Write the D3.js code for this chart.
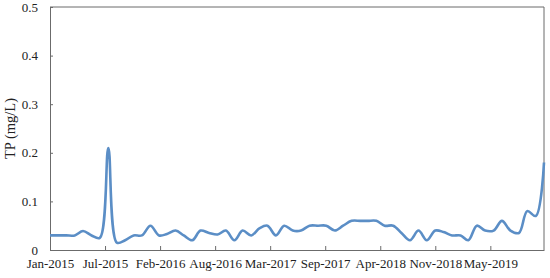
<!DOCTYPE html>
<meta charset="utf-8">
<style>
  body { margin: 0; background: #fff; }
  .axis text { font: 13px "Liberation Serif", serif; fill: #222; }
  .yTitle { font: 14.5px "Liberation Serif", serif; fill: #222; }
</style>
<svg width="550" height="278"></svg>
<script src="https://d3js.org/d3.v7.min.js"></script>
<script>
// monthly TP readings, Jan-2015 .. Dec-2019
var startMonth = "2015-01";
var tpValues = [
  0.030, 0.030, 0.030, 0.030, 0.039, 0.030, 0.025, 0.210, 0.015, 0.020, 0.030, 0.030,
  0.050, 0.030, 0.033, 0.040, 0.030, 0.020, 0.040, 0.035, 0.032, 0.040, 0.020, 0.040,
  0.030, 0.045, 0.050, 0.030, 0.050, 0.040, 0.040, 0.050, 0.050, 0.050, 0.040, 0.050,
  0.060, 0.060, 0.060, 0.060, 0.050, 0.050, 0.035, 0.020, 0.040, 0.020, 0.040, 0.037,
  0.030, 0.030, 0.020, 0.050, 0.040, 0.040, 0.060, 0.040, 0.035, 0.080, 0.070, 0.180
];
// x ticks every 200 days from the first date
var tickDates = ["2015-01-01", "2015-07-20", "2016-02-05", "2016-08-23", "2017-03-11",
                 "2017-09-27", "2018-04-15", "2018-11-01", "2019-05-20"];
var yTicks = [0, 0.1, 0.2, 0.3, 0.4, 0.5];

var parse = d3.timeParse("%Y-%m-%d");
var t0 = d3.timeParse("%Y-%m")(startMonth);
var data = tpValues.map(function(v, i) { return {date: d3.timeMonth.offset(t0, i), value: v}; });

var svg = d3.select("svg"),
    margin = {top: 7, right: 6, bottom: 28, left: 50},
    width = 550 - margin.left - margin.right,
    height = 278 - margin.top - margin.bottom,
    g = svg.append("g").attr("transform", "translate(" + margin.left + "," + margin.top + ")");

var x = d3.scaleTime()
    .domain(d3.extent(data, function(d) { return d.date; }))
    .range([0, width]);

var y = d3.scaleLinear()
    .domain([0, 0.5])
    .range([height, 0]);

var axisColor = "#6b6b6b";

// bottom axis, ticks pointing inward
var xAxis = g.append("g")
    .attr("class", "axis")
    .attr("transform", "translate(0," + height + ")")
    .call(d3.axisBottom(x)
      .tickValues(tickDates.map(parse))
      .tickFormat(d3.timeFormat("%b-%Y"))
      .tickSizeInner(-4).tickSizeOuter(0).tickPadding(9));
xAxis.select(".domain").attr("stroke", axisColor);
xAxis.selectAll(".tick line").attr("stroke", axisColor);

var yAxis = g.append("g")
    .attr("class", "axis")
    .call(d3.axisLeft(y)
      .tickValues(yTicks)
      .tickFormat(function(d) { return d === 0 ? "0" : d3.format(".1f")(d); })
      .tickSizeInner(-3).tickSizeOuter(0).tickPadding(12));
yAxis.select(".domain").attr("stroke", axisColor);
yAxis.selectAll(".tick line").attr("stroke", axisColor);

// top and right frame
g.append("line").attr("x1", 0).attr("x2", width).attr("y1", 0).attr("y2", 0)
    .attr("stroke", axisColor);
g.append("line").attr("x1", width).attr("x2", width).attr("y1", 0).attr("y2", height)
    .attr("stroke", axisColor);

var line = d3.line()
    .x(function(d) { return x(d.date); })
    .y(function(d) { return y(d.value); })
    .curve(d3.curveCatmullRom.alpha(0.5));

g.append("path")
    .datum(data)
    .attr("fill", "none")
    .attr("stroke", "#5b8ec6")
    .attr("stroke-width", 2.6)
    .attr("stroke-linejoin", "round")
    .attr("d", line);

svg.append("text")
    .attr("class", "yTitle")
    .attr("transform", "translate(15," + (margin.top + height / 2) + ") rotate(-90)")
    .attr("text-anchor", "middle")
    .text("TP (mg/L)");
</script>
